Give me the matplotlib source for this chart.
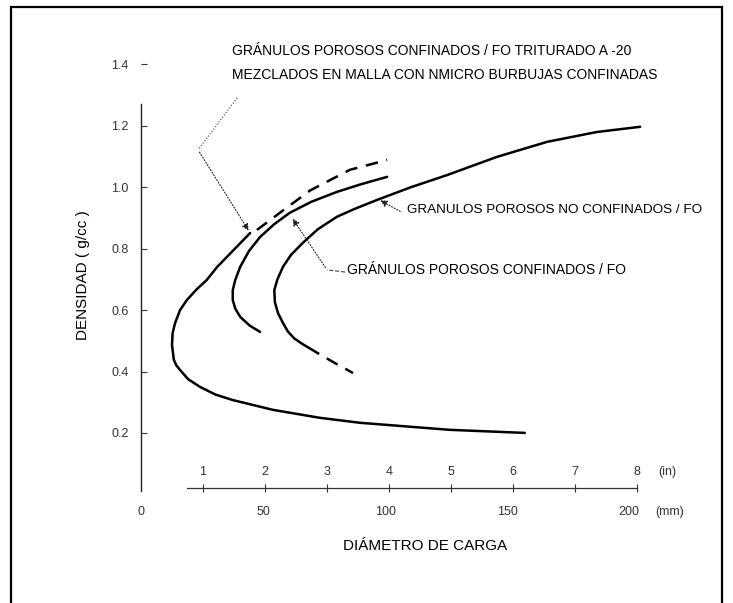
import numpy as np
import matplotlib.pyplot as plt
from matplotlib.patches import Rectangle

plt.rcParams['font.family'] = ['Liberation Sans', 'DejaVu Sans']

# curve data: x in inches, y in g/cc
outer_x = [6.19, 4.98, 3.53, 2.89, 2.13, 1.48, 1.20, 0.95, 0.76, 0.63, 0.57, 0.53, 0.50,
           0.51, 0.55, 0.63, 0.74, 0.90, 1.06, 1.23, 1.50, 1.76]
outer_y = [0.200, 0.210, 0.233, 0.249, 0.275, 0.307, 0.325, 0.350, 0.375, 0.405, 0.420, 0.438, 0.487,
           0.525, 0.558, 0.600, 0.633, 0.668, 0.698, 0.741, 0.797, 0.851]

outer_dash_x = [1.87, 2.30, 2.73, 3.37, 3.97]
outer_dash_y = [0.861, 0.926, 0.990, 1.057, 1.089]

mid_x = [1.92, 1.75, 1.60, 1.52, 1.48, 1.48, 1.52, 1.60, 1.74, 1.92, 2.15, 2.40, 2.75, 3.16, 3.55, 3.97]
mid_y = [0.529, 0.550, 0.578, 0.605, 0.633, 0.665, 0.698, 0.741, 0.792, 0.838, 0.880, 0.917, 0.953,
         0.985, 1.010, 1.034]

inner_x = [8.05, 7.35, 6.55, 5.74, 4.94, 4.35, 3.81, 3.45, 3.16, 2.85, 2.61, 2.42, 2.29, 2.20,
           2.15, 2.16, 2.21, 2.29, 2.37, 2.47, 2.60, 2.70]
inner_y = [1.197, 1.180, 1.148, 1.099, 1.040, 1.000, 0.959, 0.930, 0.904, 0.863, 0.819, 0.780,
           0.741, 0.700, 0.665, 0.625, 0.590, 0.558, 0.530, 0.508, 0.490, 0.478]

inner_dash_x = [2.70, 2.89, 3.15, 3.42]
inner_dash_y = [0.478, 0.455, 0.425, 0.395]

y_ticks = [0.2, 0.4, 0.6, 0.8, 1.0, 1.2, 1.4]
in_ticks = [1, 2, 3, 4, 5, 6, 7, 8]
mm_ticks = [0, 50, 100, 150, 200]

fig = plt.figure(figsize=(7.33, 6.03), dpi=100)
ax = fig.add_axes([0, 0, 1, 1])
ax.set_xlim(-2.274, 9.548)
ax.set_ylim(-0.354, 1.610)

# frame around the scanned figure
fig.patches.append(Rectangle((11 / 733, -0.05), (722 - 11) / 733, 1.05 - 7 / 603,
                             transform=fig.transFigure, fill=False, lw=1.6, ec='black'))

for s in ['top', 'right']:
    ax.spines[s].set_visible(False)
ax.spines['left'].set_position(('data', 0))
ax.spines['left'].set_bounds(0.01, 1.27)
ax.spines['left'].set_linewidth(1.0)
ax.spines['left'].set_color('#222222')
ax.spines['bottom'].set_position(('data', 0.021))
ax.spines['bottom'].set_bounds(0.75, 8)
ax.spines['bottom'].set_linewidth(0.9)
ax.spines['bottom'].set_color('#333333')

ax.set_yticks(y_ticks, ['%.1f' % v for v in y_ticks])
ax.tick_params(axis='y', direction='in', length=4, width=0.8, pad=9,
               labelsize=9, labelcolor='#333333', colors='#333333')
ax.set_xticks(in_ticks, [])
ax.tick_params(axis='x', direction='inout', length=6, width=0.8, colors='#333333')

for v in in_ticks:
    ax.text(v, 0.073, str(v), ha='center', va='center', fontsize=9, color='#333333')
ax.text(8.34, 0.073, '(in)', ha='left', va='center', fontsize=9, color='#333333')
for v in mm_ticks:
    ax.text(v / 25.4, -0.057, str(v), ha='center', va='center', fontsize=9, color='#333333')
ax.text(8.30, -0.057, '(mm)', ha='left', va='center', fontsize=9, color='#333333')

ax.text(-0.935, 0.715, 'DENSIDAD ( g/cc )', rotation=90, ha='center', va='center', fontsize=11)
ax.text(4.58, -0.168, 'DIÁMETRO DE CARGA', ha='center', va='center', fontsize=11)

# curves
lw = 1.8
ax.plot(outer_x, outer_y, color='black', lw=lw, solid_capstyle='round')
ax.plot(outer_dash_x, outer_dash_y, color='black', lw=lw, ls=(0, (5, 3.5)))
ax.plot(mid_x, mid_y, color='black', lw=lw, solid_capstyle='round')
ax.plot(inner_x, inner_y, color='black', lw=lw, solid_capstyle='round')
ax.plot(inner_dash_x, inner_dash_y, color='black', lw=lw, ls=(0, (5, 3.5)))

# labels and leaders
fs = 10
ax.text(1.47, 1.444, 'GRÁNULOS POROSOS CONFINADOS / FO TRITURADO A -20', ha='left', va='center', fontsize=fs)
ax.text(1.47, 1.366, 'MEZCLADOS EN MALLA CON NMICRO BURBUJAS CONFINADAS', ha='left', va='center', fontsize=fs)
ax.plot([1.55, 0.92], [1.291, 1.122], color='#444444', lw=0.8, ls=':')
ax.annotate('', xy=(1.76, 0.851), xytext=(0.92, 1.122),
            arrowprops=dict(arrowstyle='-|>', color='#222222', lw=0.8, ls=':', mutation_scale=10))

ax.text(4.29, 0.926, 'GRANULOS POROSOS NO CONFINADOS / FO', ha='left', va='center', fontsize=9.7)
ax.annotate('', xy=(3.82, 0.962), xytext=(4.22, 0.917),
            arrowprops=dict(arrowstyle='-|>', color='#222222', lw=0.8, ls=':', mutation_scale=10))

ax.text(3.32, 0.731, 'GRÁNULOS POROSOS CONFINADOS / FO', ha='left', va='center', fontsize=fs)
ax.plot([3.29, 3.0], [0.724, 0.731], color='#444444', lw=0.8, ls='--')
ax.annotate('', xy=(2.42, 0.905), xytext=(3.0, 0.731),
            arrowprops=dict(arrowstyle='-|>', color='#222222', lw=0.8, ls=':', mutation_scale=10))

fig.savefig('out.png', dpi=100)
